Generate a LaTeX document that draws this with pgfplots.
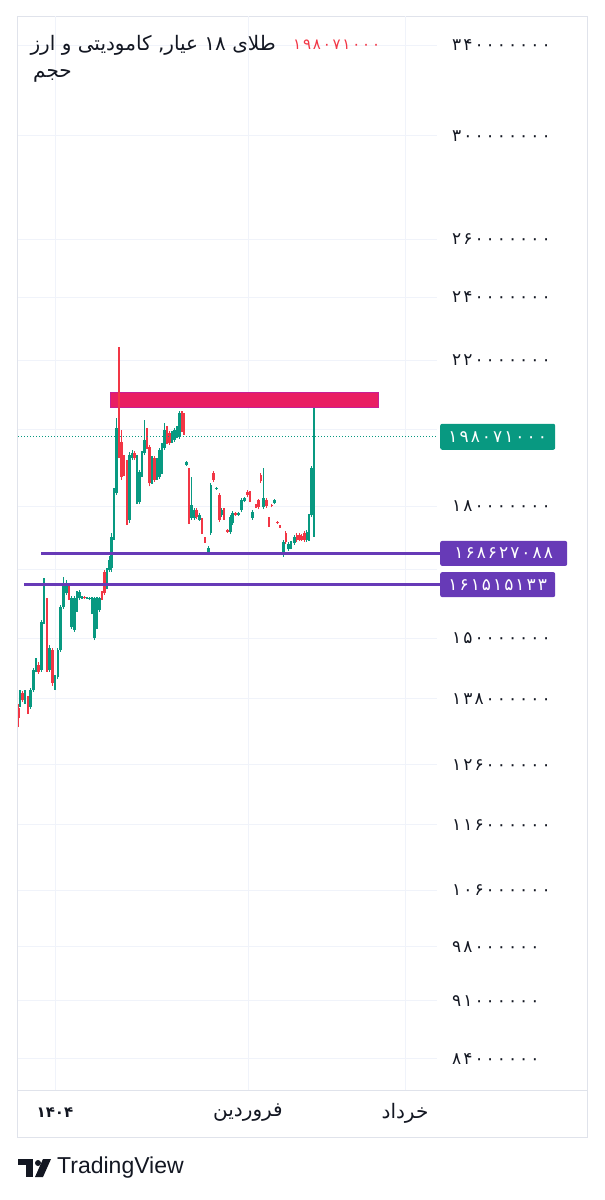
\documentclass[border=0pt]{standalone}
\usepackage{pgfplots}
\usepackage{pgfplotstable}
\pgfplotsset{compat=1.18}
\usepackage{fontspec}
\TeXXeTstate=1
\newfontfamily\fa[Script=Arabic]{DejaVu Sans}
\newfontfamily\fanum[Script=Arabic,LetterSpace=12]{DejaVu Sans}
\newfontfamily\lsans{Liberation Sans}
\definecolor{tvgreen}{RGB}{8,153,129}
\definecolor{tvred}{RGB}{242,54,69}
\definecolor{tvpurple}{RGB}{103,58,183}
\definecolor{tvpink}{RGB}{233,30,99}
\definecolor{tvpinkd}{RGB}{200,30,150}
\definecolor{tvgrid}{RGB}{240,243,250}
\definecolor{tvborder}{RGB}{224,227,235}
\definecolor{tvtext}{RGB}{19,23,34}

% candles: x, open, high, low, close (prices in millions)
\pgfplotstableread{
x o h l c
20 136.9 139.7 136.5 139.1
25 137.4 139.7 137.0 139.1
30.7 136.5 140.1 136.1 139.7
33.3 139.7 144.0 139.3 143.6
36 143.6 146.0 143.2 145.2
41.5 143.6 153.8 143.2 153.4
44 153.4 163.0 153.0 158.1
49.5 143.6 148.6 143.2 148.0
55 140.3 142.6 139.7 142.2
57.8 142.2 148.0 141.8 147.6
60.5 147.6 157.0 147.2 156.6
63.5 156.6 163.3 156.2 161.7
66.3 159.6 162.6 159.2 161.9
71.7 152.3 159.0 151.9 158.5
74.3 151.7 159.0 151.3 158.5
77 156.0 160.1 155.6 159.6
79.5 158.5 160.3 158.1 159.8
82 158.6 159.0 158.3 158.8
87 158.4 158.8 158.3 158.7
89.5 158.3 158.8 158.1 158.5
92 155.6 158.8 155.1 158.5
94.5 150.0 158.8 149.6 158.5
97 152.3 158.8 151.9 158.5
99.5 156.0 158.8 155.6 158.5
107 161.0 165.3 160.5 164.8
109.3 164.8 168.0 164.4 167.1
111.5 165.3 173.5 164.4 172.5
114 172.5 184.5 171.8 183.3
116.5 183.3 203.3 182.8 200.5
129.7 176.6 194.0 175.9 193.1
132.3 192.3 194.5 191.8 193.7
137 181.0 193.1 180.5 192.6
139.5 181.0 189.2 180.5 188.7
142 187.9 194.2 187.4 193.7
144.5 193.7 202.7 193.1 197.2
152 186.1 192.9 185.6 192.3
157 187.1 192.3 186.6 191.8
159.5 187.4 195.0 186.9 194.5
162 188.7 196.4 188.2 195.9
164.5 195.0 201.9 194.5 199.9
172 196.9 199.6 196.4 199.1
174.5 197.2 200.5 196.7 199.9
177 198.3 201.0 197.7 200.5
179.5 198.0 205.2 197.5 204.7
186.5 190.5 191.5 190.2 191.3
191.7 177.1 187.4 176.6 180.2
194.2 177.1 179.5 176.6 179.0
199.2 176.6 178.3 176.4 177.8
208.3 168.7 170.4 168.2 169.9
210.8 173.5 185.8 173.0 185.3
216.5 184.3 184.8 184.1 184.6
221.8 177.8 179.5 177.3 179.0
230.2 173.7 177.8 173.2 177.3
232.6 175.9 178.8 175.4 178.3
238.3 177.8 178.5 177.6 178.3
241.7 179.0 182.0 178.5 181.5
244.2 181.2 182.2 181.0 182.0
252.7 177.1 179.0 176.6 178.5
263.2 179.7 189.7 179.2 182.0
274.5 180.7 181.7 180.5 181.5
283.3 168.2 171.8 167.8 171.3
288.5 169.6 171.3 169.2 170.8
291 170.1 171.6 169.6 171.1
294.3 171.1 173.0 170.6 172.5
306.8 171.8 174.2 171.3 173.7
309 172.3 178.0 171.6 177.6
311.5 177.8 190.2 177.3 189.7
314 189.2 206.0 172.5 198.071
}\greendata

\pgfplotstableread{
x o h l c
18.8 136.3 136.9 132.7 134.4
22.5 139.1 139.5 137.4 137.8
28 138.2 138.6 135.1 136.5
38.7 144.6 145.2 142.8 143.2
47 158.1 158.5 143.2 143.6
52.5 147.6 148.0 140.5 141.0
69 161.5 161.9 158.1 158.5
84.5 158.8 159.0 158.3 158.5
102 159.6 160.1 158.1 158.5
104.5 164.4 164.8 159.2 159.6
119 205.5 224.1 192.3 195.0
121.5 196.7 199.9 186.6 187.4
124 192.6 193.1 187.6 188.4
127 191.0 191.8 175.4 176.1
134.7 193.7 194.2 191.8 192.3
147 199.9 200.5 194.8 195.3
149.5 195.3 195.9 185.0 185.8
154.5 192.3 192.9 186.1 186.6
167 200.5 201.0 196.1 196.7
169.5 199.1 199.6 195.9 196.4
182 204.7 205.2 199.4 199.9
184 204.1 204.7 198.6 199.1
189 189.2 189.7 175.6 176.1
196.7 179.0 179.5 176.8 177.3
202 176.6 177.1 173.2 173.7
205 172.3 172.5 171.1 171.3
213.3 188.4 188.9 186.1 186.6
219.3 182.8 183.3 176.1 176.6
224 179.0 179.5 176.6 177.1
227.7 174.2 174.4 173.5 173.7
235.7 178.3 178.5 177.6 177.8
247.5 183.5 184.0 182.2 182.8
250 183.3 183.8 181.0 181.5
256 180.2 180.5 179.5 179.7
258.5 181.5 181.7 179.2 179.7
260.8 187.9 188.4 185.8 186.3
266.5 181.5 182.0 179.5 180.0
269 176.8 177.3 174.9 175.4
271.8 180.2 180.5 179.7 180.0
277.3 176.1 176.4 175.6 175.8
280 175.3 175.4 174.7 174.9
285.8 173.5 173.9 170.8 171.3
296.8 173.0 173.5 171.3 171.8
299.3 173.0 173.5 171.6 171.8
301.8 172.7 173.2 171.6 171.8
304.3 173.5 173.9 171.3 171.8
}\reddata

\begin{document}
\begin{tikzpicture}
\path[use as bounding box] (0pt,0pt) rectangle (605pt,-1200pt);
% frame
\draw[tvborder, line width=0.8pt] (17pt,-16pt) rectangle (587pt,-1137pt);
\draw[tvborder, line width=0.8pt] (17pt,-1090pt) -- (587pt,-1090pt);

\begin{axis}[
  at={(18pt,-1090pt)}, anchor=south west,
  scale only axis, width=419pt, height=1074pt,
  xmin=18, xmax=437,
  ymode=log, ymin=80.44, ymax=353.88,
  clip=false,
  axis line style={draw=none},
  major tick length=0pt,
  ymajorgrids, xmajorgrids,
  grid style={draw=tvgrid, line width=0.8pt},
  ytick={84,91,98,106,116,126,138,150,165,180,200,220,240,260,300,340},
  yticklabels={۸۴۰۰۰۰۰۰,۹۱۰۰۰۰۰۰,۹۸۰۰۰۰۰۰,۱۰۶۰۰۰۰۰۰,۱۱۶۰۰۰۰۰۰,۱۲۶۰۰۰۰۰۰,۱۳۸۰۰۰۰۰۰,۱۵۰۰۰۰۰۰۰,{},۱۸۰۰۰۰۰۰۰,{},۲۲۰۰۰۰۰۰۰,۲۴۰۰۰۰۰۰۰,۲۶۰۰۰۰۰۰۰,۳۰۰۰۰۰۰۰۰,۳۴۰۰۰۰۰۰۰},
  yticklabel pos=right,
  yticklabel style={anchor=west, inner sep=0pt, xshift=15pt, text=tvtext, font=\fanum\fontsize{17}{17}\selectfont},
  xtick={55,248,405},
  xticklabels={{\fontsize{15}{15}\selectfont\bfseries ۱۴۰۴},{\beginR فروردین\endR},{\beginR خرداد\endR}},
  xticklabel style={anchor=center, inner sep=0pt, yshift=-23pt, text=tvtext, font=\fa\fontsize{20}{20}\selectfont},
]
% zone rectangle
\addplot[fill=tvpink, draw=tvpinkd, line width=0.6pt] coordinates {(110.7,206.16) (378,206.16) (378,210.59) (110.7,210.59)} -- cycle;
% wicks
\addplot[draw=none, forget plot, error bars/.cd, y dir=plus, y explicit, error mark=none,
  error bar style={draw=tvgreen, line width=1.2pt, solid}]
  table[x=x, y=l, y error plus expr=\thisrow{h}-\thisrow{l}] {\greendata};
\addplot[draw=none, forget plot, error bars/.cd, y dir=plus, y explicit, error mark=none,
  error bar style={draw=tvred, line width=1.2pt, solid}]
  table[x=x, y=l, y error plus expr=\thisrow{h}-\thisrow{l}] {\reddata};
% bodies
\addplot[draw=none, forget plot, error bars/.cd, y dir=plus, y explicit, error mark=none,
  error bar style={draw=tvgreen, line width=2.6pt, solid}]
  table[x=x, y=o, y error plus expr=\thisrow{c}-\thisrow{o}] {\greendata};
\addplot[draw=none, forget plot, error bars/.cd, y dir=plus, y explicit, error mark=none,
  error bar style={draw=tvred, line width=2.6pt, solid}]
  table[x=x, y=c, y error plus expr=\thisrow{o}-\thisrow{c}] {\reddata};
% last price line
\addplot[tvgreen, line width=0.8pt, dash pattern=on 1pt off 2pt] coordinates {(18,198.071) (437,198.071)};
% horizontal levels
\addplot[tvpurple, line width=2.8pt] coordinates {(41,168.627088) (440,168.627088)};
\addplot[tvpurple, line width=2.8pt] coordinates {(24,161.515133) (440,161.515133)};
% price labels
\node[fill=tvgreen, text=white, rounded corners=2pt, anchor=west, minimum width=115pt, minimum height=26pt, inner sep=0pt, font=\fanum\fontsize{17}{17}\selectfont] at (axis cs:440,198.071) {۱۹۸۰۷۱۰۰۰};
\node[fill=tvpurple, text=white, rounded corners=2pt, anchor=west, minimum width=127pt, minimum height=25pt, inner sep=0pt, font=\fanum\fontsize{17}{17}\selectfont] at (axis cs:440,168.627088) {۱۶۸۶۲۷۰۸۸};
\node[fill=tvpurple, text=white, rounded corners=2pt, anchor=west, minimum width=115pt, minimum height=25pt, inner sep=0pt, font=\fanum\fontsize{17}{17}\selectfont] at (axis cs:440,161.515133) {۱۶۱۵۱۵۱۳۳};
\end{axis}

% legend / title
\node[anchor=east, inner sep=0pt, text=tvtext, font=\fa\fontsize{20}{22}\selectfont] at (276pt,-45pt) {\beginR طلای ۱۸ عیار\kern0pt, کامودیتی و ارز\endR};
\node[anchor=west, inner sep=0pt, text=tvred, font=\fanum\fontsize{15}{18}\selectfont] at (293pt,-45pt) {۱۹۸۰۷۱۰۰۰};
\node[anchor=west, inner sep=0pt, text=tvtext, font=\fa\fontsize{20}{22}\selectfont] at (33pt,-76pt) {\beginR حجم\endR};

% TradingView logo
\fill[tvtext] (18pt,-1159pt) rectangle (33pt,-1165pt);
\fill[tvtext] (26pt,-1159pt) rectangle (33pt,-1177pt);
\fill[tvtext] (38pt,-1163pt) circle (3pt);
\fill[tvtext] (43pt,-1159pt) -- (51pt,-1159pt) -- (43pt,-1177pt) -- (35pt,-1177pt) -- cycle;
\node[anchor=west, inner sep=0pt, text=tvtext, font=\lsans\fontsize{23}{23}\selectfont] at (57pt,-1168pt) {TradingView};
\end{tikzpicture}
\end{document}
